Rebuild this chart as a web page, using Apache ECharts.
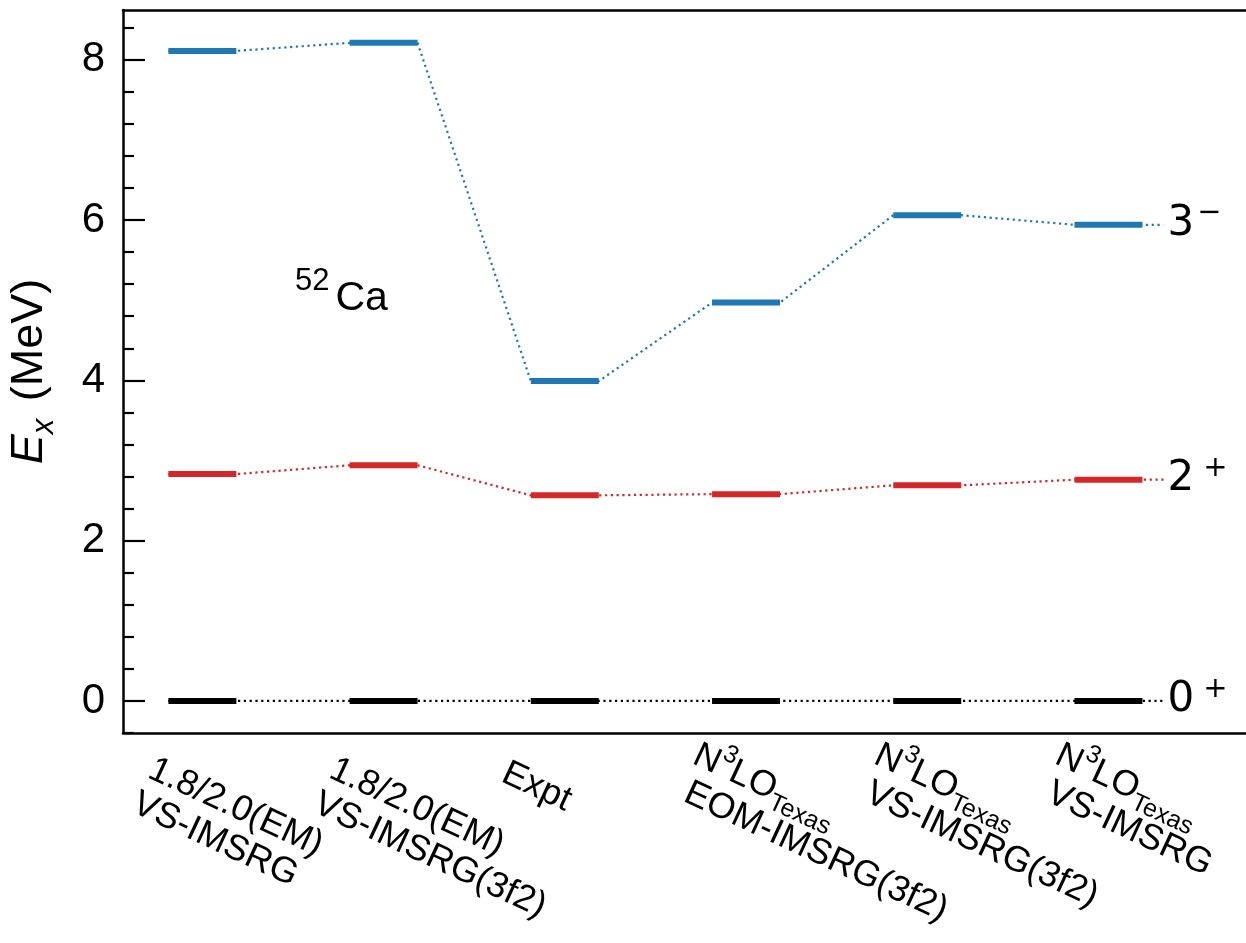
<!DOCTYPE html>
<html>
<head>
<meta charset="utf-8">
<title>52Ca excited states</title>
<script src="https://cdn.jsdelivr.net/npm/echarts@6/dist/echarts.min.js"></script>
<style>
  html, body { margin: 0; padding: 0; background: #ffffff; }
  #chart { width: 1246px; height: 943px; }
</style>
</head>
<body>
<div id="chart"></div>
<script>
// Calculation / experiment labels, one per column (rich-text markup for N^3LO_Texas)
const methods = [
  '{m|1.8/2.0(EM)}\n{m|VS-IMSRG}',
  '{m|1.8/2.0(EM)}\n{m|VS-IMSRG(3f2)}',
  '{m|Expt}',
  '{n|N}{sup|3}{n|LO}{sub|Texas}\n{k|EOM-IMSRG(3f2)}',
  '{n|N}{sup|3}{n|LO}{sub|Texas}\n{k|VS-IMSRG(3f2)}',
  '{n|N}{sup|3}{n|LO}{sub|Texas}\n{k|VS-IMSRG}'
];

// Excitation energies (MeV) per column
const groundState = [0, 0, 0, 0, 0, 0];
const twoPlus = [2.83, 2.94, 2.565, 2.58, 2.69, 2.76];
const threeMinus = [8.11, 8.21, 3.99, 4.97, 6.06, 5.94];

// Spin-parity tags drawn after the last column
const stateTags = ['{n|0}{sp|+}', '{n|2}{sp|+}', '{n|3}{sm|\u2212}'];

// Energy axis ticks
const majorTicks = [0, 2, 4, 6, 8];
const minorTicks = [-0.4, 0.4, 0.8, 1.2, 1.6, 2.4, 2.8, 3.2, 3.6, 4.4, 4.8, 5.2, 5.6, 6.4, 6.8, 7.2, 7.6, 8.4];

const BLUE = '#1f77b4';
const RED = '#d62728';
const BLACK = '#000000';

const HALF = 0.1875;   // half width of a level bar, in column units
const TAIL = 0.116;    // dotted tail after the last bar
const X_MIN = -0.438, X_MAX = 5.759;
const Y_MIN = -0.4, Y_MAX = 8.62;
const ROT = 25;        // x label rotation, degrees clockwise

const FONT = 'Liberation Sans';

function connectorPoints(levels) {
  const pts = [];
  levels.forEach((v, i) => { pts.push([i - HALF, v], [i + HALF, v]); });
  const last = levels.length - 1;
  pts.push([last + HALF + TAIL, levels[last]]);
  return pts;
}

const tagRich = {
  n: { fontFamily: 'DejaVu Sans', fontSize: 42, lineHeight: 46, verticalAlign: 'bottom', color: BLACK },
  sp: { fontFamily: 'DejaVu Sans', fontSize: 29, lineHeight: 29, padding: [0, 0, 17, 9], verticalAlign: 'bottom', color: BLACK },
  sm: { fontFamily: 'DejaVu Sans', fontSize: 29, lineHeight: 29, padding: [0, 0, 17, 3], verticalAlign: 'bottom', color: BLACK }
};

function levelSeries(levels, color, tag) {
  return [
    {
      type: 'line',
      data: connectorPoints(levels),
      symbol: 'none',
      silent: true,
      z: 2,
      lineStyle: { color: color, width: 2.2, type: [2.2, 3.6] },
      endLabel: {
        show: true,
        formatter: () => tag,
        distance: 4,
        offset: [0, -3],
        rich: tagRich
      }
    },
    {
      type: 'custom',
      data: levels.map((v, i) => [i, v]),
      z: 3,
      silent: true,
      renderItem: (params, api) => {
        const x = api.value(0), y = api.value(1);
        const p1 = api.coord([x - HALF, y]);
        const p2 = api.coord([x + HALF, y]);
        return {
          type: 'line',
          shape: { x1: p1[0], y1: p1[1], x2: p2[0], y2: p2[1] },
          style: { stroke: color, lineWidth: 6, lineCap: 'butt' }
        };
      }
    }
  ];
}

const chart = echarts.init(document.getElementById('chart'), null, { renderer: 'canvas' });

const axisLineStyle = { color: BLACK, width: 2.5 };

chart.setOption({
  animation: false,
  backgroundColor: '#ffffff',
  textStyle: { fontFamily: FONT, color: BLACK },
  grid: { left: 123, right: 0, top: 10, bottom: 210, containLabel: false, outerBoundsMode: 'none' },
  xAxis: [
    {
      type: 'value', min: X_MIN, max: X_MAX, position: 'bottom',
      axisLine: { show: true, onZero: false, lineStyle: axisLineStyle },
      axisTick: { show: false }, axisLabel: { show: false }, splitLine: { show: false }
    },
    {
      type: 'value', min: X_MIN, max: X_MAX, position: 'top',
      axisLine: { show: true, onZero: false, lineStyle: axisLineStyle },
      axisTick: { show: false }, axisLabel: { show: false }, splitLine: { show: false }
    }
  ],
  yAxis: [
    {
      type: 'value', min: Y_MIN, max: Y_MAX, position: 'left',
      axisLine: { show: true, onZero: false, lineStyle: axisLineStyle },
      axisTick: { show: true, inside: true, length: 22, customValues: majorTicks, lineStyle: { color: BLACK, width: 2.2 } },
      axisLabel: { show: true, margin: 18, customValues: majorTicks, color: BLACK, fontFamily: FONT, fontSize: 42, formatter: v => String(v) },
      splitLine: { show: false },
      name: '{e|E}{x|x}{m| (MeV)}',
      nameLocation: 'middle',
      nameRotate: 90,
      nameGap: 63,
      nameTextStyle: {
        rich: {
          e: { fontFamily: FONT, fontStyle: 'italic', fontSize: 45, lineHeight: 46, padding: [0, 0, 8, 0], verticalAlign: 'bottom', color: BLACK },
          x: { fontFamily: FONT, fontStyle: 'italic', fontSize: 31, lineHeight: 31, padding: [0, 5, 0, 0], verticalAlign: 'bottom', color: BLACK },
          m: { fontFamily: FONT, fontSize: 45, lineHeight: 46, padding: [0, 0, 8, 0], verticalAlign: 'bottom', color: BLACK }
        }
      }
    },
    {
      type: 'value', min: Y_MIN, max: Y_MAX, position: 'left', offset: 0,
      axisLine: { show: false, onZero: false },
      axisTick: { show: true, inside: true, length: 11, customValues: minorTicks, lineStyle: { color: BLACK, width: 2.2 } },
      axisLabel: { show: false }, splitLine: { show: false }
    }
  ],
  series: [
    ...levelSeries(groundState, BLACK, stateTags[0]),
    ...levelSeries(twoPlus, RED, stateTags[1]),
    ...levelSeries(threeMinus, BLUE, stateTags[2])
  ]
});

// Column labels and the nucleus tag, placed from the axis scales
const xRich = {
  m: { fontFamily: FONT, fontSize: 36, lineHeight: 38, padding: [0, 0, 6, 0], verticalAlign: 'bottom', fill: BLACK },
  k: { fontFamily: FONT, fontSize: 36, lineHeight: 38, padding: [0, 0, 6, 8], verticalAlign: 'bottom', fill: BLACK },
  n: { fontFamily: FONT, fontSize: 36, lineHeight: 38, padding: [16, 0, 6, 0], verticalAlign: 'bottom', fill: BLACK },
  sup: { fontFamily: FONT, fontSize: 25, lineHeight: 25, padding: [0, 0, 25, 0], verticalAlign: 'bottom', fill: BLACK },
  sub: { fontFamily: FONT, fontSize: 25, lineHeight: 25, verticalAlign: 'bottom', fill: BLACK }
};

const axisBottom = chart.convertToPixel({ yAxisIndex: 0 }, Y_MIN);
const graphics = methods.map((label, i) => {
  const cx = chart.convertToPixel({ xAxisIndex: 0 }, i);
  const oneLine = label.indexOf('\n') < 0;
  const tall = label.indexOf('{n|') >= 0;
  return {
    type: 'text',
    x: cx - (oneLine ? 55 : tall ? 45 : 46),
    y: axisBottom + (oneLine ? 26 : tall ? 8 : 22),
    rotation: -ROT * Math.PI / 180,
    silent: true,
    style: { text: label, rich: xRich, align: 'left', verticalAlign: 'top', fill: BLACK }
  };
});

const nucleusPos = chart.convertToPixel({ gridIndex: 0 }, [0.511, 5.04]);
graphics.push({
  type: 'text',
  x: nucleusPos[0],
  y: nucleusPos[1],
  silent: true,
  style: {
    text: '{s|52}{c|Ca}',
    align: 'left',
    verticalAlign: 'middle',
    rich: {
      s: { fontFamily: FONT, fontSize: 31, lineHeight: 31, padding: [0, 6, 22, 0], verticalAlign: 'bottom', fill: BLACK },
      c: { fontFamily: FONT, fontSize: 41, lineHeight: 44, verticalAlign: 'bottom', fill: BLACK }
    }
  }
});

chart.setOption({ graphic: graphics });
</script>
</body>
</html>
